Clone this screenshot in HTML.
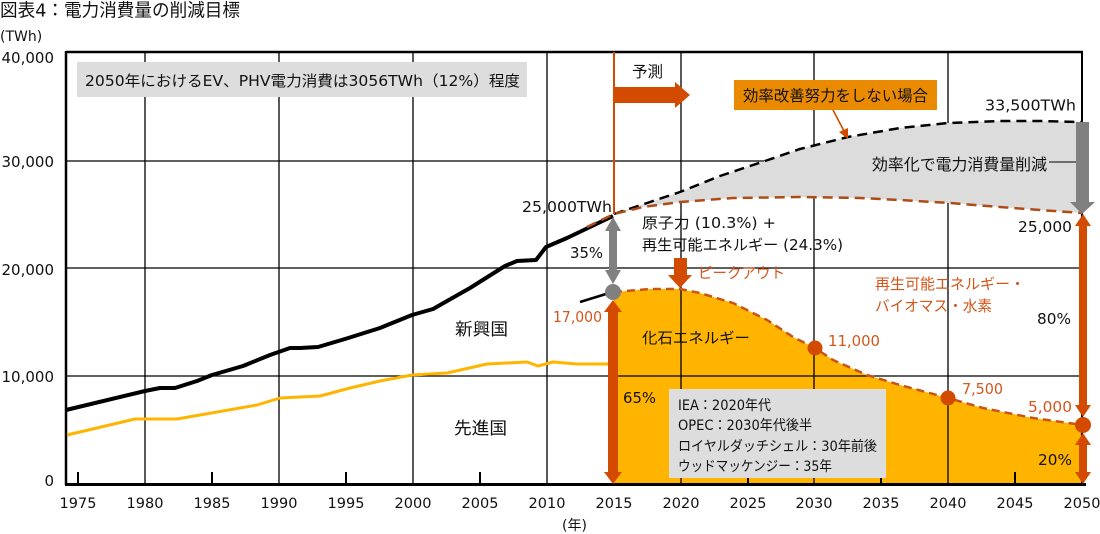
<!DOCTYPE html>
<html><head><meta charset="utf-8"><style>
html,body{margin:0;padding:0;background:#fff;}
svg{display:block;}
text{font-family:"DejaVu Sans","Noto Sans CJK JP",sans-serif;fill:#111;}
.o{fill:#D3561C;}
</style></head><body>
<svg width="1100" height="534" viewBox="0 0 1100 534" xmlns="http://www.w3.org/2000/svg">
<rect width="1100" height="534" fill="#fff"/>
<!-- fossil fill -->
<polygon fill="#FFB400" points="614,292 650,289 680,289 700,293 733,303 767,320 793,337 815,348 833,360 867,375 900,385 948,398 983,408 1033,418 1083,425 1083,484 614,484"/>
<!-- grid -->
<g stroke="#000" stroke-width="1.3">
<line x1="145" y1="52" x2="145" y2="484"/><line x1="279" y1="52" x2="279" y2="484"/>
<line x1="413" y1="52" x2="413" y2="484"/><line x1="547" y1="52" x2="547" y2="484"/>
<line x1="681" y1="52" x2="681" y2="484"/><line x1="814" y1="52" x2="814" y2="484"/>
<line x1="948" y1="52" x2="948" y2="484"/>
<line x1="66" y1="161" x2="1083" y2="161"/><line x1="66" y1="268" x2="1083" y2="268"/>
<line x1="66" y1="376" x2="1083" y2="376"/>
</g>
<!-- gray reduction area (covers grid) -->
<polygon fill="#DCDCDC" points="614,214 650,202 680,192 720,176 765,161 800,149 848,137 900,128 948,123 1000,121 1040,121 1082,122 1082,213 1040,210 1000,207 950,203 900,200 860,198 800,197 733,198 680,202 643,207"/>
<g stroke="#000" stroke-width="2">
<line x1="78" y1="472" x2="78" y2="484"/><line x1="212" y1="472" x2="212" y2="484"/>
<line x1="346" y1="472" x2="346" y2="484"/><line x1="480" y1="472" x2="480" y2="484"/>
<line x1="748" y1="472" x2="748" y2="484"/><line x1="881" y1="472" x2="881" y2="484"/>
<line x1="1015" y1="472" x2="1015" y2="484"/>
</g>
<!-- frame -->
<line x1="66" y1="52" x2="1083" y2="52" stroke="#000" stroke-width="2.5"/>
<line x1="66" y1="51" x2="66" y2="485" stroke="#000" stroke-width="2.5"/>
<line x1="1082" y1="51" x2="1082" y2="484" stroke="#000" stroke-width="2"/>
<line x1="65" y1="484.5" x2="1086" y2="484.5" stroke="#000" stroke-width="3"/>
<!-- boxes -->
<rect x="77" y="62" width="450" height="35" fill="#DDDDDD"/>
<rect x="669" y="389" width="217" height="89" fill="#DDDDDD"/>
<rect x="734" y="80" width="203" height="30" fill="#E98A00"/>
<!-- history lines -->
<polyline fill="none" stroke="#FFB400" stroke-width="3" stroke-linejoin="round" points="67,435 135,419 177,419 257,405 280,398 300,397 320,396 350,388 380,381 412,375 447,373 487,364 527,362 538,366 553,362 577,364 614,364"/>
<polyline fill="none" stroke="#000" stroke-width="4" stroke-linejoin="round" points="66,410 145,391 160,388 175,388 197,381 212,375 243,366 270,355 290,348 300,348 318,347 345,339 380,328 412,315 433,309 470,288 505,266 517,261 536,260 546,247 567,238 613,216"/>
<line x1="580" y1="302" x2="606" y2="294" stroke="#000" stroke-width="2.5"/>
<!-- forecast dashed -->
<polyline fill="none" stroke="#000" stroke-width="2.5" stroke-dasharray="10,6" points="614,214 650,202 680,192 720,176 765,161 800,149 848,137 900,128 948,123 1000,121 1040,121 1082,122"/>
<polyline fill="none" stroke="#B04A16" stroke-width="2.5" stroke-dasharray="10,6" points="587,227 614,214 643,207 680,202 733,198 800,197 860,198 900,200 950,203 1000,207 1040,210 1082,213"/>
<polyline fill="none" stroke="#C9541A" stroke-width="2.5" stroke-dasharray="8,5" points="614,292 650,289 680,289 700,293 733,303 767,320 793,337 815,348 833,360 867,375 900,385 948,398 983,408 1033,418 1083,425"/>
<!-- orange 2015 line & forecast arrow -->
<line x1="614" y1="52" x2="614" y2="214" stroke="#D24B00" stroke-width="2"/>
<polygon fill="#D24B00" points="614,87 675,87 675,82 690,95 675,108 675,103 614,103"/>
<!-- small pointer arrow -->
<line x1="833" y1="110" x2="844" y2="131" stroke="#D24B00" stroke-width="1.6"/>
<polygon fill="#D24B00" points="839,132 848,128 848,139"/>
<!-- peak-out arrow -->
<polygon fill="#D24B00" points="674,258 687,258 687,275 692,275 680,288 668,275 674,275"/>
<!-- 2015 gray double arrow -->
<polygon fill="#808080" points="613,217 621,231 617,231 617,270 621,270 613,284 605,270 609,270 609,231 605,231"/>
<!-- 2015 orange double arrow -->
<polygon fill="#D24B00" points="613,300 622,312 618,312 618,472 622,472 613,484 604,472 608,472 608,312 604,312"/>
<!-- 2050 gray arrow -->
<polygon fill="#808080" points="1076,122 1089,122 1089,202 1095,202 1082,214 1070,202 1076,202"/>
<!-- 2050 orange double arrows -->
<polygon fill="#D24B00" points="1083,214 1091,226 1087,226 1087,405 1091,405 1083,417 1075,405 1079,405 1079,226 1075,226"/>
<polygon fill="#D24B00" points="1083,433 1091,445 1087,445 1087,472 1091,472 1083,484 1075,472 1079,472 1079,445 1075,445"/>
<line x1="1049" y1="162" x2="1076" y2="162" stroke="#000" stroke-width="1"/>
<!-- dots -->
<circle cx="613" cy="292" r="8" fill="#808080"/>
<circle cx="815" cy="348" r="7.5" fill="#D24B00"/>
<circle cx="948" cy="398" r="7.5" fill="#D24B00"/>
<circle cx="1083" cy="425" r="8" fill="#D24B00"/>
<!-- texts -->
<text x="0" y="16.5" font-size="18" textLength="240" lengthAdjust="spacingAndGlyphs">図表4：電力消費量の削減目標</text>
<text x="0" y="41" font-size="14">(TWh)</text>
<g font-size="15" text-anchor="end">
<text x="54" y="63">40,000</text><text x="54" y="167">30,000</text>
<text x="54" y="275">20,000</text><text x="54" y="382">10,000</text>
<text x="54" y="486">0</text>
</g>
<g font-size="14.5" text-anchor="middle">
<text x="78" y="508">1975</text><text x="145" y="508">1980</text><text x="212" y="508">1985</text>
<text x="279" y="508">1990</text><text x="346" y="508">1995</text><text x="413" y="508">2000</text>
<text x="480" y="508">2005</text><text x="547" y="508">2010</text><text x="614" y="508">2015</text>
<text x="681" y="508">2020</text><text x="748" y="508">2025</text><text x="814" y="508">2030</text>
<text x="881" y="508">2035</text><text x="948" y="508">2040</text><text x="1015" y="508">2045</text>
<text x="1082" y="508">2050</text>
</g>
<text x="562" y="530" font-size="14">(年)</text>
<text x="85" y="86" font-size="15" textLength="435" lengthAdjust="spacingAndGlyphs">2050年におけるEV、PHV電力消費は3056TWh（12%）程度</text>
<text x="632" y="77" font-size="15.5" textLength="31" lengthAdjust="spacingAndGlyphs">予測</text>
<text x="743" y="101" font-size="15.5" textLength="185" lengthAdjust="spacingAndGlyphs">効率改善努力をしない場合</text>
<text x="985" y="110.5" font-size="15.5" textLength="91" lengthAdjust="spacingAndGlyphs">33,500TWh</text>
<text x="872" y="170" font-size="16" textLength="175" lengthAdjust="spacingAndGlyphs">効率化で電力消費量削減</text>
<text x="522" y="212" font-size="15.5" textLength="90" lengthAdjust="spacingAndGlyphs">25,000TWh</text>
<text x="642" y="228" font-size="15" textLength="134" lengthAdjust="spacingAndGlyphs">原子力 (10.3%) +</text>
<text x="642" y="250" font-size="15" textLength="201" lengthAdjust="spacingAndGlyphs">再生可能エネルギー (24.3%)</text>
<text x="570" y="258" font-size="15" textLength="33" lengthAdjust="spacingAndGlyphs">35%</text>
<text class="o" x="698" y="278" font-size="15" textLength="87" lengthAdjust="spacingAndGlyphs">ピークアウト</text>
<text class="o" x="553" y="322" font-size="15" textLength="49" lengthAdjust="spacingAndGlyphs">17,000</text>
<text x="642" y="343" font-size="15" textLength="108" lengthAdjust="spacingAndGlyphs">化石エネルギー</text>
<text x="455" y="335" font-size="17" textLength="53" lengthAdjust="spacingAndGlyphs">新興国</text>
<text x="454" y="434" font-size="17" textLength="53" lengthAdjust="spacingAndGlyphs">先進国</text>
<text x="623" y="403" font-size="15" textLength="33" lengthAdjust="spacingAndGlyphs">65%</text>
<g font-size="14">
<text x="678" y="410" textLength="93" lengthAdjust="spacingAndGlyphs">IEA：2020年代</text>
<text x="678" y="430" textLength="134" lengthAdjust="spacingAndGlyphs">OPEC：2030年代後半</text>
<text x="678" y="451" textLength="199" lengthAdjust="spacingAndGlyphs">ロイヤルダッチシェル：30年前後</text>
<text x="678" y="471" textLength="154" lengthAdjust="spacingAndGlyphs">ウッドマッケンジー：35年</text>
</g>
<text class="o" x="828" y="346" font-size="15" textLength="52" lengthAdjust="spacingAndGlyphs">11,000</text>
<text class="o" x="962" y="394" font-size="15" textLength="41" lengthAdjust="spacingAndGlyphs">7,500</text>
<text class="o" x="1028" y="412" font-size="15" textLength="44" lengthAdjust="spacingAndGlyphs">5,000</text>
<text x="1037" y="324" font-size="15" textLength="34" lengthAdjust="spacingAndGlyphs">80%</text>
<text x="1038" y="465" font-size="15" textLength="34" lengthAdjust="spacingAndGlyphs">20%</text>
<text x="1018" y="232" font-size="15" textLength="54" lengthAdjust="spacingAndGlyphs">25,000</text>
<text class="o" x="875" y="289" font-size="15" textLength="150" lengthAdjust="spacingAndGlyphs">再生可能エネルギー・</text>
<text class="o" x="875" y="311" font-size="15" textLength="117" lengthAdjust="spacingAndGlyphs">バイオマス・水素</text>
</svg>
</body></html>
